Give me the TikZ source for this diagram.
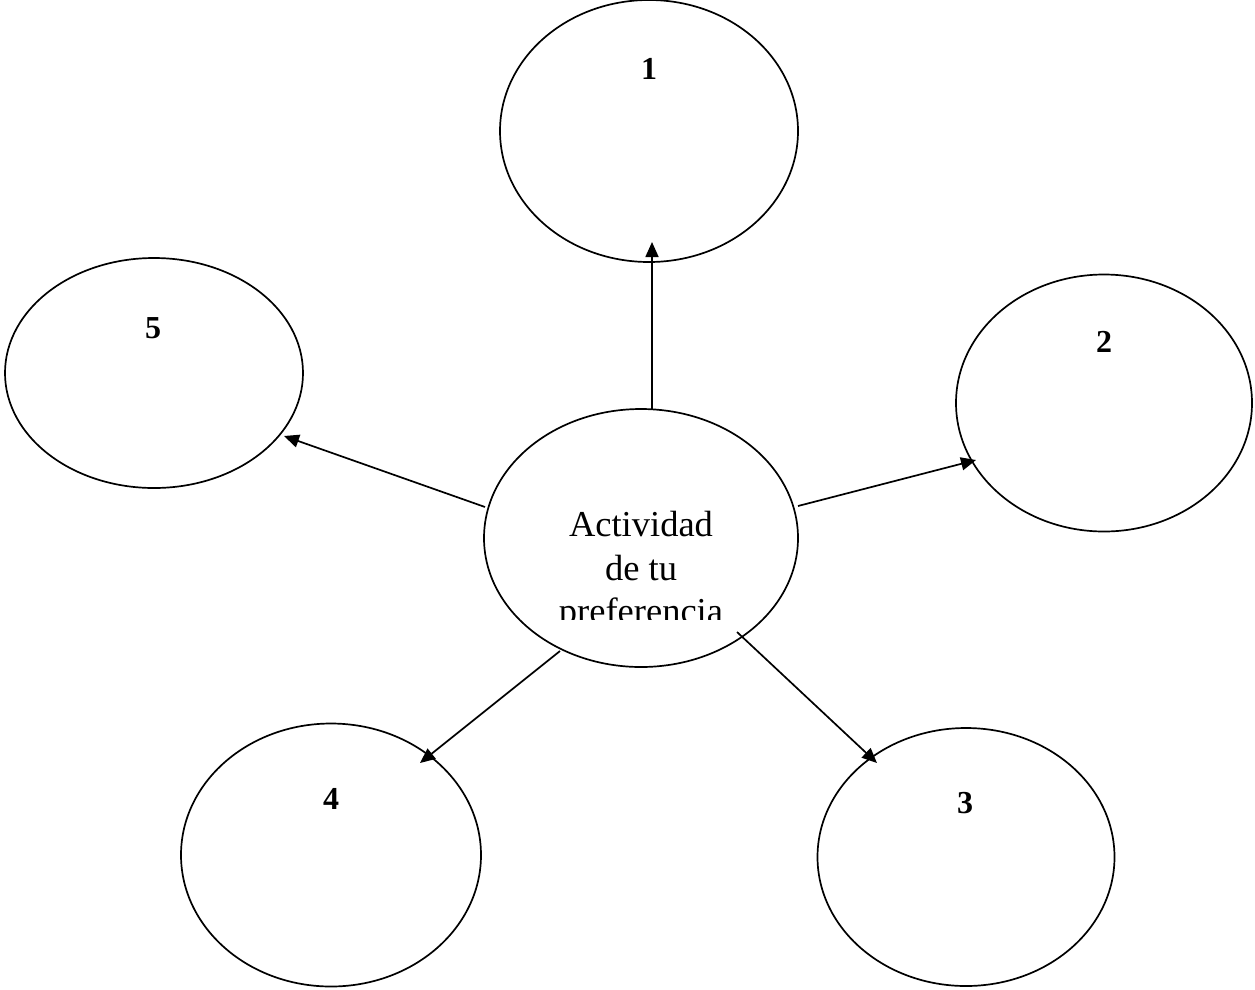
\documentclass[tikz,border=0pt]{standalone}
\usepackage{fontspec}
\setmainfont{Liberation Serif}
\usetikzlibrary{arrows.meta,shapes.geometric}
\begin{document}
\begin{tikzpicture}[x=1pt,y=-1pt,
  bub/.style={draw,ellipse,line width=1.7pt,inner sep=0pt},
  num/.style={font=\fontsize{32}{38}\selectfont\bfseries,anchor=base},
  ctext/.style={font=\fontsize{36.5}{43}\selectfont,anchor=base},
  conn/.style={line width=1.7pt,-{Triangle[length=15pt,width=13pt]}}]
\useasboundingbox (0,0) rectangle (1255,989);
\node[bub,minimum width=298pt,minimum height=262pt] (e1) at (649,131) {};
\node[bub,minimum width=298pt,minimum height=230pt] (e5) at (154,373) {};
\node[bub,minimum width=296pt,minimum height=257pt] (e2) at (1104,403) {};
\node[bub,minimum width=314pt,minimum height=258pt] (ec) at (641,538) {};
\node[bub,minimum width=300pt,minimum height=263pt] (e4) at (331,855) {};
\node[bub,minimum width=297pt,minimum height=258pt] (e3) at (966,857) {};
\node[num] (n1) at (649,79) {1};
\node[num] (n5) at (153,338) {5};
\node[num] (n2) at (1104,352) {2};
\node[num] (n4) at (331,809) {4};
\node[num] (n3) at (965,813) {3};
\begin{scope}
\clip (480,480) rectangle (800,619);
\node[ctext] (t1) at (641,536) {Actividad};
\node[ctext] (t2) at (641,580) {de tu};
\node[ctext] (t3) at (641,623) {preferencia};
\end{scope}
\coordinate (a1s) at (652,409); \coordinate (a1e) at (652,242);
\coordinate (a5s) at (485,507); \coordinate (a5e) at (284,436);
\coordinate (a2s) at (798,506); \coordinate (a2e) at (976,460);
\coordinate (a4s) at (560,651); \coordinate (a4e) at (420,763);
\coordinate (a3s) at (737,632); \coordinate (a3e) at (877,763);
\draw[conn] (a1s) -- (a1e);
\draw[conn] (a5s) -- (a5e);
\draw[conn] (a2s) -- (a2e);
\draw[conn] (a4s) -- (a4e);
\draw[conn] (a3s) -- (a3e);
\end{tikzpicture}
\end{document}
